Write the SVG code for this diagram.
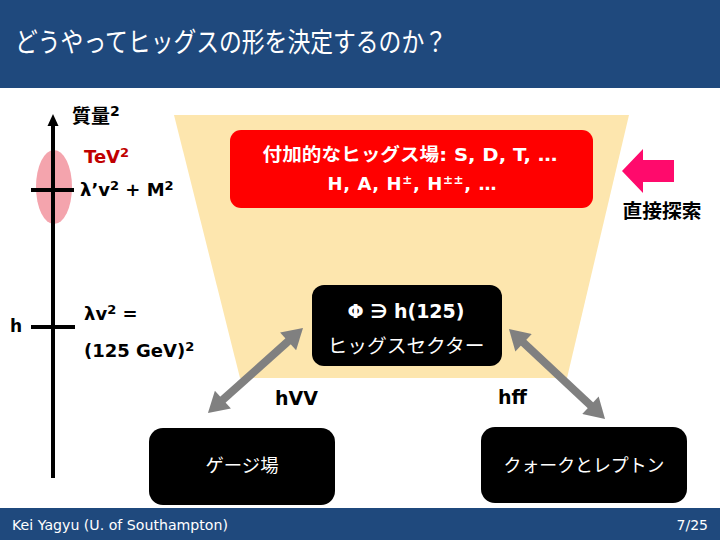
<svg xmlns="http://www.w3.org/2000/svg" width="720" height="540" viewBox="0 0 720 540">
<defs>
<style>
.lat{font-family:"DejaVu Sans","Noto Sans CJK JP",sans-serif;font-weight:bold;}
.jp{font-family:"Noto Sans CJK JP",sans-serif;}
.jpb{font-family:"DejaVu Sans","Noto Sans CJK JP",sans-serif;font-weight:bold;}
.wt{fill:#ffffff;}
.bk{fill:#000000;}
.tick{stroke:#000;stroke-width:4;}
.conn{stroke:#808080;stroke-width:8;fill:none;marker-start:url(#head);marker-end:url(#head);}
</style>
<marker id="head" markerUnits="userSpaceOnUse" markerWidth="22" markerHeight="24" viewBox="0 0 20 24" refX="2" refY="12" orient="auto-start-reverse">
<path d="M0,0 L20,12 L0,24 z" fill="#808080"/>
</marker>
</defs>
<rect x="0" y="0" width="720" height="540" fill="#ffffff"/>
<g id="header">
<rect x="0" y="0" width="720" height="88" fill="#1f497d"/>
<text x="15" y="52" class="jp wt" font-size="27" textLength="432" lengthAdjust="spacingAndGlyphs">どうやってヒッグスの形を決定するのか？</text>
</g>
<polygon id="sector-band" points="174,115 629,115 567,378 240,378" fill="#fde6ae"/>
<g id="mass-axis">
<ellipse cx="54" cy="187" rx="18" ry="37" fill="#f4a4ad"/>
<line x1="53" y1="124" x2="53" y2="478" stroke="#000" stroke-width="4"/>
<path d="M53,114 L58.5,126 L47.5,126 z" fill="#000"/>
<line x1="31" y1="190" x2="74" y2="190" class="tick"/>
<line x1="31" y1="327" x2="75" y2="327" class="tick"/>
<text x="72" y="123" class="jpb bk" font-size="19">質量<tspan font-size="14" dy="-7">2</tspan></text>
<text x="84" y="163" class="lat" font-size="18" fill="#c00000">TeV<tspan font-size="13" dy="-6">2</tspan></text>
<text x="80" y="196" class="lat bk" font-size="18">λ’v<tspan font-size="13" dy="-6">2</tspan><tspan dy="6"> + M</tspan><tspan font-size="13" dy="-6">2</tspan></text>
<text x="10" y="332" class="lat bk" font-size="17">h</text>
<text x="84" y="320" class="lat bk" font-size="18">λv<tspan font-size="13" dy="-6">2</tspan><tspan dy="6"> =</tspan></text>
<text x="84" y="357" class="lat bk" font-size="18">(125 GeV)<tspan font-size="13" dy="-6">2</tspan></text>
</g>
<g id="node-extra-higgs">
<rect x="230" y="130" width="363" height="78" rx="11" fill="#ff0000"/>
<text x="410" y="161" class="jpb wt" font-size="18" text-anchor="middle" textLength="295" lengthAdjust="spacingAndGlyphs">付加的なヒッグス場: S, D, T, …</text>
<text x="412" y="190" class="lat wt" font-size="18" text-anchor="middle" textLength="169" lengthAdjust="spacing">H, A, H<tspan font-size="12" dy="-6">±</tspan><tspan dy="6">, H</tspan><tspan font-size="12" dy="-6">±±</tspan><tspan dy="6">, …</tspan></text>
</g>
<g id="direct-search">
<polygon points="622,171 643,149 643,160 674,160 674,182 643,182 643,193" fill="#ff0a6c"/>
<text x="662" y="218" class="jpb bk" font-size="19" text-anchor="middle" textLength="79" lengthAdjust="spacingAndGlyphs">直接探索</text>
</g>
<g id="node-higgs-sector">
<rect x="312" y="285" width="190" height="81" rx="12" fill="#000"/>
<text x="406" y="318" class="lat wt" font-size="19" text-anchor="middle">Φ ∋ h(125)</text>
<text x="406" y="353" class="jp wt" font-size="19" text-anchor="middle" textLength="157" lengthAdjust="spacingAndGlyphs">ヒッグスセクター</text>
</g>
<g id="node-gauge">
<rect x="149" y="428" width="186" height="77" rx="14" fill="#000"/>
<text x="242" y="472" class="jp wt" font-size="18" text-anchor="middle" textLength="73" lengthAdjust="spacingAndGlyphs">ゲージ場</text>
</g>
<g id="node-fermion">
<rect x="481" y="427" width="206" height="76" rx="14" fill="#000"/>
<text x="584" y="472" class="jp wt" font-size="18" text-anchor="middle" textLength="161" lengthAdjust="spacingAndGlyphs">クォークとレプトン</text>
</g>
<g id="connectors">
<line x1="289.6" y1="340" x2="221.4" y2="401" class="conn"/>
<line x1="522.1" y1="341.3" x2="591.9" y2="406.7" class="conn"/>
<text x="275" y="405" class="lat bk" font-size="19">hVV</text>
<text x="498" y="404" class="lat bk" font-size="19">hff</text>
</g>
<g id="footer">
<rect x="0" y="508" width="720" height="32" fill="#1f497d"/>
<text x="12" y="530" font-family="'DejaVu Sans',sans-serif" font-size="14" class="wt" textLength="216" lengthAdjust="spacingAndGlyphs">Kei Yagyu (U. of Southampton)</text>
<text x="708" y="530" font-family="'DejaVu Sans',sans-serif" font-size="14" class="wt" text-anchor="end">7/25</text>
</g>
</svg>
